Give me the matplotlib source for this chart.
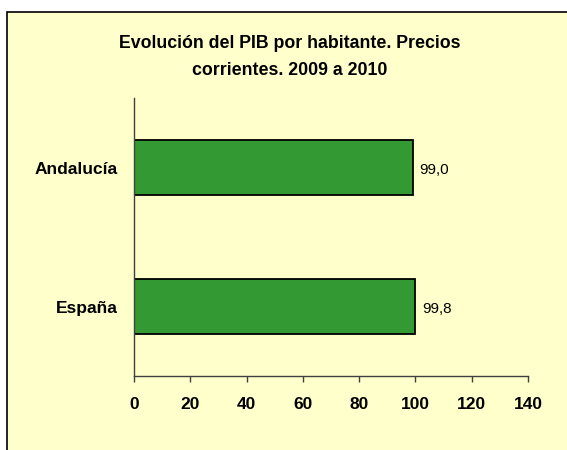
import matplotlib.pyplot as plt
from matplotlib.patches import Rectangle

categorias = ["Andalucía", "España"]
valores = [99.0, 99.8]
etiquetas = ["99,0", "99,8"]
ticks_x = [0, 20, 40, 60, 80, 100, 120, 140]

plt.rcParams["font.family"] = ["Liberation Sans", "DejaVu Sans"]

fig = plt.figure(figsize=(5.67, 4.5), dpi=100)
fig.patch.set_facecolor("white")
# marco amarillo del grafico (se sale por la derecha y por abajo)
fig.patches.append(Rectangle((7 / 567, -0.05), 1.1, 0.973 + 0.05, transform=fig.transFigure,
                             facecolor="#FFFFCC", edgecolor="black", linewidth=1.2, zorder=-10))

ax = fig.add_axes([134 / 567, 1 - 376 / 450, (528 - 134) / 567, (376 - 98) / 450])
ax.set_facecolor("none")

pos = list(range(len(categorias)))
ax.barh(pos, valores, height=0.39, color="#339933", edgecolor="black", linewidth=1.3)
for p, v, t in zip(pos, valores, etiquetas):
    ax.annotate(t, (v, p), xytext=(5, -2), textcoords="offset points",
                ha="left", va="center", fontsize=11)

ax.set_ylim(-0.5, len(categorias) - 0.5)
ax.invert_yaxis()
ax.set_xlim(0, 140)
ax.set_xticks(ticks_x)
ax.set_xticklabels([str(t) for t in ticks_x], fontsize=12.5, fontweight="bold")
ax.set_yticks(pos)
ax.set_yticklabels(categorias, fontsize=12.5, fontweight="bold")
ax.tick_params(axis="y", length=0, pad=12)
ax.tick_params(axis="x", direction="out", length=4, width=1, color="#404040", pad=11)

for s in ("top", "right"):
    ax.spines[s].set_visible(False)
for s in ("left", "bottom"):
    ax.spines[s].set_color("#404040")
    ax.spines[s].set_linewidth(1)

fig.text(290 / 567, 1 - 57 / 450, "Evolución del PIB por habitante. Precios\ncorrientes. 2009 a 2010",
         ha="center", va="center", fontsize=12.8, fontweight="bold", linespacing=1.7)

fig.savefig("out.png", dpi=100)
